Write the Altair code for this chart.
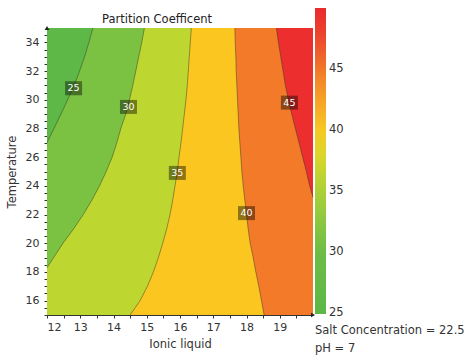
import altair as alt
import pandas as pd

FONT = "DejaVu Sans"
X_MIN, X_MAX = 12, 20
T_MIN, T_MAX = 15, 35

# contour levels and the fill colour of each band (below 25, 25-30, ..., above 45)
levels = [25, 30, 35, 40, 45]
band_colors = ["#5db847", "#7cc242", "#bed630", "#fcc621", "#f37a28", "#ec2f2e"]

# contour traces: temperature -> ionic liquid
c25_temp = [27.0, 28, 29, 30, 31, 32, 33, 34, 35]
c25_ionic = [12.0, 12.21, 12.42, 12.62, 12.82, 12.98, 13.13, 13.26, 13.38]

c30_temp = [18.3, 19, 20, 21, 22, 23, 24, 25, 26, 27, 28, 29, 30, 31, 32, 33, 34, 35]
c30_ionic = [12.0, 12.2, 12.48, 12.8, 13.09, 13.35, 13.58, 13.78, 13.96, 14.1,
             14.22, 14.37, 14.48, 14.58, 14.67, 14.76, 14.85, 14.93]

c35_temp = [15, 16, 17, 18, 19, 20, 21, 22, 23, 24, 25, 26, 27, 28, 29, 30, 31, 32, 33, 34, 35]
c35_ionic = [14.5, 14.8, 15.02, 15.2, 15.35, 15.48, 15.6, 15.7, 15.78, 15.85, 15.92,
             15.97, 16.03, 16.08, 16.13, 16.18, 16.22, 16.25, 16.28, 16.31, 16.34]

c40_temp = [15, 16, 17, 18, 19, 20, 21, 22, 23, 24, 25, 26, 27, 28, 29, 30, 31, 32, 33, 34, 35]
c40_ionic = [18.53, 18.45, 18.37, 18.28, 18.2, 18.11, 18.05, 18.0, 17.95, 17.9, 17.86,
             17.83, 17.8, 17.77, 17.75, 17.73, 17.71, 17.69, 17.68, 17.66, 17.65]

c45_temp = [23.2, 24, 25, 26, 27, 28, 29, 30, 31, 32, 33, 34, 35]
c45_ionic = [20.0, 19.9, 19.8, 19.69, 19.58, 19.47, 19.36, 19.26, 19.17, 19.1, 19.03, 18.96, 18.9]

# where each contour value is written
label_ionic = [12.8, 14.45, 15.92, 18.0, 19.29]
label_temp = [30.8, 29.5, 24.9, 22.1, 29.8]

# colour bar stops (lower end set just under 25 so the "25" label sits centred on the end)
bar_values = [24.95, 30, 35, 38, 40, 43, 45, 47, 50]
bar_colors = ["#5db847", "#6cbd46", "#abd13a", "#dcd62a", "#f6c823",
              "#f59a2a", "#f17a2a", "#ec4a2d", "#ea2a2e"]
bar_labels = [25, 30, 35, 40, 45]

x_ticks = [12, 12.5, 13, 13.5, 14, 14.5, 15, 15.5, 16, 16.5, 17, 17.5, 18, 18.5, 19, 19.5]
y_ticks = [15, 15.5, 16, 16.5, 17, 17.5, 18, 18.5, 19, 19.5, 20, 20.5, 21, 21.5, 22, 22.5,
           23, 23.5, 24, 24.5, 25, 25.5, 26, 26.5, 27, 27.5, 28, 28.5, 29, 29.5, 30, 30.5,
           31, 31.5, 32, 32.5, 33, 33.5, 34, 34.5]

contours = [
    (c25_temp, c25_ionic),
    (c30_temp, c30_ionic),
    (c35_temp, c35_ionic),
    (c40_temp, c40_ionic),
    (c45_temp, c45_ionic),
]

axis_common = dict(
    domainColor="#333", tickColor="#333", tickSize=3, labelColor="#333",
    labelFont=FONT, labelFontSize=11, titleFont=FONT, titleFontSize=11.5,
    titleFontWeight="normal", titleColor="#333", grid=False, labelOverlap=False,
)
x_axis = alt.Axis(values=x_ticks, title="Ionic liquid", labelPadding=3, titlePadding=6,
                  labelExpr="datum.value % 1 == 0 ? format(datum.value, 'd') : ''",
                  **axis_common)
y_axis = alt.Axis(values=y_ticks, title="Temperature", labelPadding=5, titlePadding=8,
                  labelExpr="datum.value % 2 == 0 ? format(datum.value, 'd') : ''",
                  **axis_common)
x_scale = alt.Scale(domain=[X_MIN, X_MAX], nice=False, zero=False)
y_scale = alt.Scale(domain=[T_MIN, T_MAX], nice=False, zero=False)


def xenc(field="ionic"):
    return alt.X(f"{field}:Q", scale=x_scale, axis=x_axis, stack=None)


def yenc(field="temp"):
    return alt.Y(f"{field}:Q", scale=y_scale, axis=y_axis)


# filled bands: each region "value above level" lies to the right of its contour
band_layers = []
floor = pd.DataFrame({"temp": [T_MIN, T_MAX], "ionic": [X_MIN, X_MIN], "right": [X_MAX, X_MAX]})
band_layers.append(
    alt.Chart(floor).mark_area(orient="horizontal", color=band_colors[0])
    .encode(y=yenc(), x=xenc(), x2="right:Q")
)
for i, (temps, ionic) in enumerate(contours):
    t = list(temps)
    xs = list(ionic)
    if t[0] > T_MIN:
        # the band keeps to the plot edge below where its contour leaves the frame
        t = [T_MIN] + t
        xs = [xs[0]] + xs
    df = pd.DataFrame({"temp": t, "ionic": xs, "right": [X_MAX] * len(t)})
    band_layers.append(
        alt.Chart(df).mark_area(orient="horizontal", color=band_colors[i + 1])
        .encode(y=yenc(), x=xenc(), x2="right:Q")
    )

line_rows = []
for lev, (temps, ionic) in zip(levels, contours):
    for t, x in zip(temps, ionic):
        line_rows.append({"level": lev, "temp": t, "ionic": x})
lines = alt.Chart(pd.DataFrame(line_rows)).mark_line(
    color="#2a2a2a", strokeWidth=0.8, opacity=0.55
).encode(x=xenc(), y=yenc(), detail="level:N", order="temp:Q")

labels_df = pd.DataFrame({"level": levels, "ionic": label_ionic, "temp": label_temp})
boxes = alt.Chart(labels_df).mark_rect(
    width=17, height=14, color="#000", opacity=0.42
).encode(x=xenc(), y=yenc())
texts = alt.Chart(labels_df).mark_text(
    color="white", font=FONT, fontSize=9.5
).encode(x=xenc(), y=yenc(), text="level:N")

# axis arrow heads
arrows_df = pd.DataFrame({
    "ionic": [X_MAX, X_MIN], "temp": [T_MIN, T_MAX],
    "shape": ["triangle-right", "triangle-up"],
})
arrows = alt.Chart(arrows_df).mark_point(
    filled=True, color="#222", size=22, opacity=1
).encode(x=xenc(), y=yenc(), shape=alt.Shape("shape:N", scale=None, legend=None))

# colour bar carried by an invisible layer
bar_df = pd.DataFrame({"value": bar_labels, "ionic": [X_MIN] * len(bar_labels),
                       "temp": [T_MIN] * len(bar_labels)})
colorbar = alt.Chart(bar_df).mark_circle(size=0, opacity=1).encode(
    x=xenc(), y=yenc(),
    color=alt.Color(
        "value:Q",
        scale=alt.Scale(domain=bar_values, range=bar_colors),
        legend=alt.Legend(
            title=["Salt Concentration = 22.5", "pH = 7"],
            orient="none", legendX=268, legendY=-20, direction="vertical",
            gradientLength=306, gradientThickness=11, gradientStrokeWidth=0,
            gradientOpacity=1,
            values=bar_labels, labelOverlap=False,
            labelFont=FONT, labelFontSize=11.5, labelColor="#333", labelOffset=3,
            titleOrient="bottom", titleAnchor="start", titleAlign="left",
            titleFont=FONT, titleFontSize=11.5, titleFontWeight="normal",
            titleColor="#333", titleLineHeight=18, titlePadding=6, titleLimit=400,
            padding=0,
        ),
    ),
)

chart = alt.layer(*band_layers, lines, boxes, texts, arrows, colorbar).properties(
    width=266, height=287,
    title=alt.TitleParams("Partition Coefficent", anchor="start", frame="group",
                          dx=55, dy=23, offset=6,
                          font=FONT, fontSize=11.5, fontWeight="normal", color="#222"),
    autosize=alt.AutoSizeParams(type="none"),
    padding={"left": 47, "top": 28, "right": 156, "bottom": 41},
).configure_view(strokeWidth=0)

chart.save("out.html", embed_options={"renderer": "svg", "actions": False})
